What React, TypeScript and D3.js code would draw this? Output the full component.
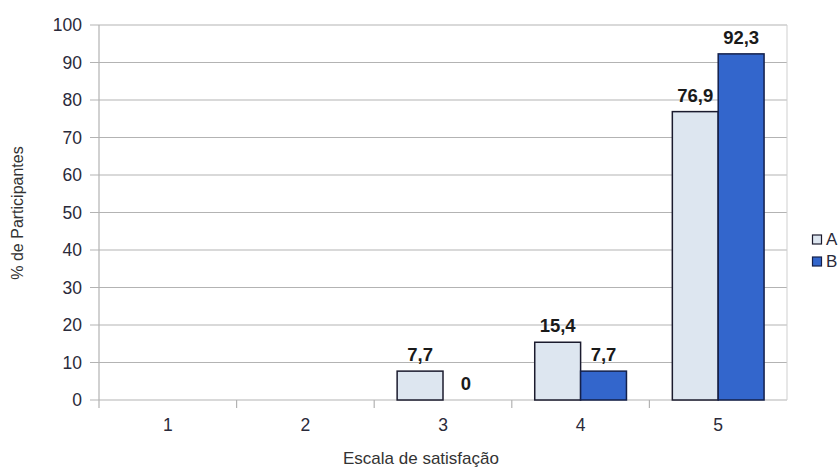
import React from "react";
import * as d3 from "d3";

const categories = ["1", "2", "3", "4", "5"];
const seriesNames = ["A", "B"];
const valuesA = [null, null, 7.7, 15.4, 76.9];
const valuesB = [null, null, 0, 7.7, 92.3];
const yTicks = [0, 10, 20, 30, 40, 50, 60, 70, 80, 90, 100];

const W = 840, H = 470;
const M = { left: 99, right: 787, top: 25, bottom: 400 };
const colors = ["#dde6f0", "#3366cc"];
const strokes = ["#1b1b2e", "#14204a"];

export default function App() {
  const x = d3.scaleBand<string>().domain(categories).range([M.left, M.right]).paddingInner(0).paddingOuter(0);
  const inner = d3.scaleBand<string>().domain(seriesNames).range([0, x.bandwidth()]).paddingInner(0).paddingOuter(0.5);
  const y = d3.scaleLinear().domain([0, 100]).range([M.bottom, M.top]);
  const series = [valuesA, valuesB];
  const fmt = (v: number) => String(v).replace(".", ",");
  const font = "'Liberation Sans', Arial, sans-serif";
  return (
    <svg width={W} height={H} style={{ position: "absolute", left: 0, top: 0, background: "#fff" }} fontFamily={font}>
      {yTicks.map((t) => (
        <g key={t}>
          <line x1={M.left - 9} x2={M.right} y1={y(t)} y2={y(t)} stroke="#b3b3b3" strokeWidth={1.2} />
          <text x={M.left - 17} y={y(t)} dy="0.35em" textAnchor="end" fontSize={17.5} fill="#2a2a3a">{t}</text>
        </g>
      ))}
      <line x1={M.left} x2={M.left} y1={M.top} y2={M.bottom + 8} stroke="#b3b3b3" strokeWidth={1.2} />
      <line x1={M.right} x2={M.right} y1={M.top} y2={M.bottom} stroke="#cfcfcf" strokeWidth={1} />
      {categories.map((c, i) => (
        <g key={c}>
          {i > 0 && <line x1={x(c)!} x2={x(c)!} y1={M.bottom} y2={M.bottom + 8} stroke="#b3b3b3" strokeWidth={1.2} />}
          <text x={x(c)! + x.bandwidth() / 2} y={M.bottom + 31} textAnchor="middle" fontSize={17.5} fill="#2a2a3a">{c}</text>
        </g>
      ))}
      {series.map((vals, si) =>
        vals.map((v, ci) => {
          if (v === null) return null;
          const bx = x(categories[ci])! + inner(seriesNames[si])!;
          const bw = inner.bandwidth();
          return (
            <g key={`${si}-${ci}`}>
              {v > 0 && (
                <rect x={bx} y={y(v)} width={bw} height={y(0) - y(v)} fill={colors[si]} stroke={strokes[si]} strokeWidth={1.5} />
              )}
              <text x={bx + bw / 2} y={y(v) - 10} textAnchor="middle" fontSize={18.5} fontWeight="bold" fill="#1a1a1a">{fmt(v)}</text>
            </g>
          );
        })
      )}
      <text x={421} y={464} textAnchor="middle" fontSize={17} fill="#333">Escala de satisfação</text>
      <text transform={`translate(23, 213) rotate(-90)`} textAnchor="middle" fontSize={16} fill="#333">% de Participantes</text>
      {seriesNames.map((s, i) => (
        <g key={s}>
          <rect x={812.5} y={235 + i * 22} width={9} height={9} fill={colors[i]} stroke={strokes[i]} strokeWidth={1.2} />
          <text x={826} y={239.5 + i * 22} dy="0.35em" fontSize={17} fill="#2a2a3a">{s}</text>
        </g>
      ))}
    </svg>
  );
}
